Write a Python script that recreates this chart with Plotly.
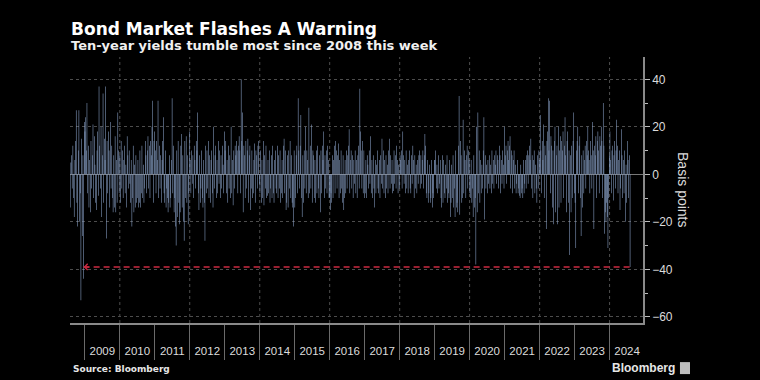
import pandas as pd
import plotly.graph_objects as go

title = "Bond Market Flashes A Warning"
subtitle = "Ten-year yields tumble most since 2008 this week"
source = "Source: Bloomberg"
brand = "Bloomberg"
y_title = "Basis points"

start_date = "2008-08-01"     # first weekly observation
compare_date = "2008-12-19"   # the 2008 weekly drop the arrow refers back to
grid_years = [2010, 2012, 2014, 2016, 2018, 2020, 2022, 2024]

# Weekly change in 10-year yield (basis points), one list per calendar year
w2008 = [-14, 5, 8, -6, 12, -10, -18, 6, 14, 27, -12, -22, 10, 27, -20, -8, -53, 15, -26, 8, -44, 22]
w2009 = [18, 24, 10, 30, -8, 12, -14, 6, -16, 14,
         -6, 8, 21, -10, 16, 4, -12, -15, 10, 18,
         -9, 37, 12, -6, 20, -18, 8, 34, -12, 15,
         6, 37, -27, 14, -8, 18, 10, -14, 22, -6,
         12, -10, -16, 8, -14, 16, -16, 6, -12, 26,
         10, -8]
w2010 = [8, -12, 14, -6, 10, -10, 6, 12, -8, 4,
         -14, 16, 8, -6, 10, -4, -12, 6, -22, -10,
         12, -16, 4, -14, 8, -12, -10, 6, -14, -12,
         10, -14, -8, 12, -10, 4, -12, -6, 14, 8,
         -8, 10, 16, -6, 12, -10, 14, 8, 20, 31,
         -12, 14, 18]
w2011 = [10, -8, 14, 6, 31, -10, 12, -6, 8, -12,
         6, 14, 24, -8, -12, 10, -14, -6, -10, -16,
         -12, 8, -14, -10, 6, 32, -8, 12, -16, -10,
         -22, -30, 10, -18, 14, -12, -21, -16, 12, 17,
         -14, 8, -20, -28, 14, -10, 16, -12, 8, -21,
         -8, 18]
w2012 = [6, -8, 10, -4, 8, -10, 12, 6, -6, 14,
         10, 26, -8, -15, 8, -12, -6, 10, -10, -14,
         6, -12, -28, 12, -8, 10, -6, 14, -10, 8,
         -12, 6, 10, -8, -14, 20, -6, 8, 12, -10,
         6, -8, 14, -4, 10, -10, 8, -6, 12, 4,
         -8, 18]
w2013 = [10, 14, -8, 6, -12, 12, -6, 8, -10, 20,
         -8, 6, -13, 10, -6, 12, 8, 14, 10, -8,
         12, 16, 10, -8, 40, 14, 26, -16, 12, 8,
         -10, 14, -6, 10, 15, -12, 8, 12, -15, -6,
         10, -10, -8, 6, 13, -12, 10, 8, -6, 12,
         14, -4]
w2014 = [-8, 10, -12, 6, -10, 14, -13, 8, -6, 12,
         -10, -9, 6, -8, 10, -12, -6, 8, -10, 12,
         -8, -12, 6, 10, -6, -8, 12, -10, 8, -6,
         10, -12, -8, 6, -10, 12, 15, -8, 10, -15,
         -12, 8, -14, 10, -6, 14, -10, 8, -12, -14,
         -22, 10]
w2015 = [-14, -10, 8, 12, -8, 32, 10, -6, 12, 25,
         -10, -18, 8, -12, 10, -6, 20, -8, 10, 6,
         -10, 28, -8, 12, -6, 21, -12, 10, 8, -10,
         6, -12, 10, -8, 12, -6, -10, 8, -16, 10,
         -8, 12, 6, 18, -10, 8, -6, 10, -8, 12,
         6, -10]
w2016 = [-10, -15, -8, -12, 8, -10, 6, 12, -8, 14,
         10, -6, 8, 13, -10, 6, -8, 10, -6, -12,
         8, -15, -10, 6, -8, 10, -6, 8, 12, 19,
         -8, 6, 10, -6, 8, -10, 6, -4, 10, -8,
         6, -10, 8, 12, -6, 36, 18, 10, -6, 14,
         -8, 10, -10]
w2017 = [-8, 6, -10, 8, 4, -6, 10, -4, 16, -8,
         6, -10, 8, -6, -14, 6, -8, 4, 10, -6,
         -8, 6, -10, 8, -4, 15, -6, 10, -8, 6,
         -10, 8, -6, 4, -8, 10, 15, -6, 8, -4,
         6, -8, -7, 10, -4, 8, -6, 12, 6, -8,
         4, -6]
w2018 = [8, 6, 10, -6, 18, 8, -4, 6, -8, 10,
         -6, 4, -8, 6, 10, -6, -8, 8, -4, 12,
         6, -10, 8, -6, 4, -8, 6, -4, 8, 10,
         -6, 8, -4, 6, 10, -6, 8, 17, 12, -8,
         -10, 6, -12, -8, 4, -12, -10, 6, -14, -8,
         -10, 6]
w2019 = [6, 10, -6, 4, -8, 8, -6, -4, 6, -10,
         -14, 8, -12, 6, -8, -10, 4, -6, 8, -12,
         -8, -10, 6, -18, -12, 4, -10, 8, -14, -6,
         -18, 10, -14, -12, -16, 12, 33, -17, 14, 8,
         -12, -10, 23, -8, 10, 6, -10, 8, 12, -6,
         10, 6]
w2020 = [-8, -10, 6, -12, -6, -18, 8, -14, -10, -38,
         20, -16, 26, -8, 10, -12, 6, -8, 4, -6,
         10, 24, -19, 8, -6, 4, -8, 6, -4, 8,
         -6, 4, -8, 10, -4, 6, -6, 8, 4, 10,
         -4, 8, 6, -6, 12, 8, -8, 6, -4, 10,
         4, -6]
w2021 = [20, 8, 12, -4, 10, 14, 6, 12, 16, -6,
         10, 8, -8, 6, 10, -6, 4, -8, -4, 6,
         -8, -6, -9, -10, 4, -8, -6, -10, 6, -8,
         -4, 6, -6, 8, 10, -4, 8, 12, 6, 15,
         -6, 8, -10, 6, 10, -8, 4, -6, -12, 8,
         -6, 10, 6]
w2022 = [25, 10, -8, 14, 6, 21, -10, 12, 8, -23,
         14, 18, 32, 10, 31, -8, 16, 12, -14, 10,
         -21, 14, 20, -16, 8, 12, -21, 20, -14, 10,
         16, -12, 14, 10, 18, -10, 12, 24, 8, -16,
         14, 18, -12, 10, -34, 8, -16, 12, -10, 14,
         26, -8]
w2023 = [-12, -31, 10, 14, 20, -8, 12, 16, -10, -26,
         8, -14, 10, -8, 6, 12, -6, 14, 8, 20,
         10, 6, -8, 14, 8, -6, 22, 10, -23, 12,
         8, 16, -10, 14, 18, 10, -8, 16, 12, 20,
         14, -10, 30, 12, -25, -16, -20, -12, -18, -31,
         -10, 8]
w2024 = [18, 6, -8, 10, 12, -11, 8, 14, -6, 10,
         23, 12, -8, 6, 10, -15, -6, 19, 8, -10,
         6, -8, 10, -20, 4, -12, 14, 6, -10, 8,
         -39]

years = list(range(2008, 2025))
weekly_by_year = [w2008, w2009, w2010, w2011, w2012, w2013, w2014, w2015, w2016,
                  w2017, w2018, w2019, w2020, w2021, w2022, w2023, w2024]

dates, values = [], []
for yr, vals in zip(years, weekly_by_year):
    first = start_date if yr == 2008 else f"{yr}-01-01"
    dates.extend(pd.date_range(first, periods=len(vals), freq="W-FRI"))
    values.extend(vals)

last_date, last_value = dates[-1], values[-1]

BAR = "rgba(145,170,210,0.99)"
RED = "#CC2A40"
GRID = "#4d4d4d"
AXIS = "#8a8a8a"
TXT = "#dcdcdc"

fig = go.Figure()
fig.add_trace(go.Bar(x=dates, y=values, marker=dict(color=BAR, line=dict(width=0)),
                     showlegend=False, hoverinfo="x+y"))
fig.add_trace(go.Scatter(x=[compare_date, last_date], y=[last_value, last_value],
                         mode="lines", line=dict(color=RED, width=1.6, dash="6px,4px"),
                         showlegend=False, hoverinfo="skip"))

shapes = [dict(type="line", xref="x", yref="paper", x0=f"{g}-01-01", x1=f"{g}-01-01",
               y0=0, y1=1, line=dict(color=GRID, width=1, dash="dot"), layer="below")
          for g in grid_years]
shapes.append(dict(type="rect", xref="paper", yref="paper", x0=1.0645, x1=1.0820,
                   y0=-0.192, y1=-0.147, fillcolor="#bdbdbd", line=dict(width=0)))

annotations = [
    dict(text=title, xref="paper", yref="paper", x=0, y=1.1034, xanchor="left", yanchor="middle",
         showarrow=False, xshift=-1, font=dict(family="DejaVu Sans", size=17, color="#ffffff", weight="bold")),
    dict(text=subtitle, xref="paper", yref="paper", x=0, y=1.0414, xanchor="left", yanchor="middle",
         showarrow=False, xshift=-1, font=dict(family="DejaVu Sans", size=13, color="#f0f0f0", weight="bold")),
    dict(text=source, xref="paper", yref="paper", x=0, y=-0.173, xanchor="left", yanchor="middle",
         showarrow=False, xshift=1, font=dict(family="DejaVu Sans", size=9, color="#e6e6e6", weight="bold")),
    dict(text=brand, xref="paper", yref="paper", x=0.942, y=-0.169, xanchor="left", yanchor="middle",
         showarrow=False, font=dict(family="Liberation Sans", size=12, color="#e6e6e6", weight="bold")),
    dict(text=y_title, xref="paper", yref="paper", x=1.0698, y=0.5, xanchor="center", yanchor="middle",
         textangle=90, showarrow=False, font=dict(family="Liberation Sans", size=14, color=TXT)),
    dict(text="", x=compare_date, y=last_value, xref="x", yref="y", showarrow=True,
         ax=7, ay=0, arrowhead=4, arrowsize=0.75, arrowwidth=1.6, arrowcolor=RED, standoff=0),
]

fig.update_layout(
    width=760, height=380,
    margin=dict(l=70, r=117, t=57, b=57),
    paper_bgcolor="#000000", plot_bgcolor="#000000",
    bargap=0.2,
    shapes=shapes,
    annotations=annotations,
    xaxis=dict(
        type="date", range=["2008-07-30", "2024-12-15"],
        tick0="2009-01-01", dtick="M12", tickformat="%Y", ticklabelmode="period",
        ticks="outside", ticklen=35, tickwidth=1, tickcolor="#6a6a6a",
        ticklabelstandoff=-19,
        tickfont=dict(family="Liberation Sans", size=11.5, color=TXT),
        showgrid=False, zeroline=False,
        showline=True, linecolor=AXIS, linewidth=1.5,
    ),
    yaxis=dict(
        side="right", range=[-62.6, 49.4],
        tick0=0, dtick=20, ticks="outside", ticklen=5, tickcolor="#bbbbbb",
        tickfont=dict(family="Liberation Sans", size=12, color=TXT),
        showgrid=True, gridcolor=GRID, griddash="dot", gridwidth=1,
        zeroline=True, zerolinecolor="#777777", zerolinewidth=1,
        showline=True, linecolor=AXIS, linewidth=1.5,
        minor=dict(dtick=10, ticks="outside", ticklen=3, tickcolor="#bbbbbb", showgrid=False),
    ),
)

fig.write_html("out.html", config={"displayModeBar": False},
               post_script="document.body.style.margin='0';document.body.style.background='#000';")
